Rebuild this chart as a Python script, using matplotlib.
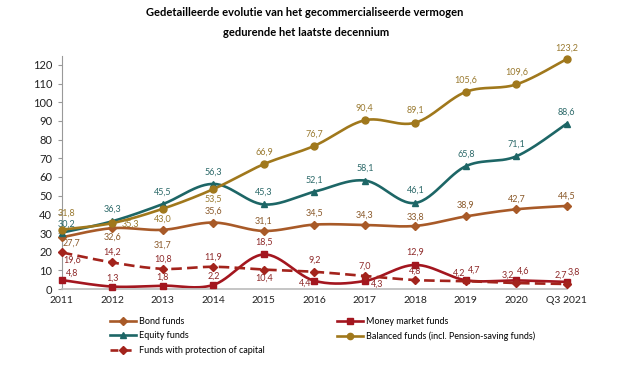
import numpy as np
import matplotlib
matplotlib.use("Agg")
import matplotlib.pyplot as plt
from matplotlib.lines import Line2D

categories = ["2011", "2012", "2013", "2014", "2015", "2016", "2017", "2018", "2019", "2020", "Q3 2021"]
bond = [27.7, 32.6, 31.7, 35.6, 31.1, 34.5, 34.3, 33.8, 38.9, 42.7, 44.5]
money = [4.8, 1.3, 1.8, 2.2, 18.5, 4.4, 4.3, 12.9, 4.7, 4.6, 3.8]
equity = [30.2, 36.3, 45.5, 56.3, 45.3, 52.1, 58.1, 46.1, 65.8, 71.1, 88.6]
balanced = [31.8, 35.3, 43.0, 53.5, 66.9, 76.7, 90.4, 89.1, 105.6, 109.6, 123.2]
protection = [19.6, 14.2, 10.8, 11.9, 10.4, 9.2, 7.0, 4.8, 4.2, 3.2, 2.7]
yticks = list(range(0, 121, 10))

plt.rcParams['font.family'] = ['Lato', 'DejaVu Sans']

fig = plt.figure(figsize=(6.25, 3.71), dpi=100)
ax = fig.add_axes([0.099, 0.221, 0.808, 0.629])

def smooth(y):
    x = np.arange(len(y), dtype=float)
    y = np.asarray(y, dtype=float)
    P = np.column_stack([x, y])
    n = len(P)
    out = []
    t = np.linspace(0, 1, 30)[:, None]
    for i in range(n - 1):
        p0 = P[i - 1] if i > 0 else P[i]
        p1 = P[i]
        p2 = P[i + 1]
        p3 = P[i + 2] if i + 2 < n else P[i + 1]
        c1 = p1 + (p2 - p0) / 6.0
        c2 = p2 - (p3 - p1) / 6.0
        seg = ((1 - t) ** 3) * p1 + 3 * ((1 - t) ** 2) * t * c1 + 3 * (1 - t) * t ** 2 * c2 + t ** 3 * p2
        out.append(seg if i == 0 else seg[1:])
    s = np.vstack(out)
    return s[:, 0], s[:, 1]

series = [
    ("Bond funds", bond, "#A85A28", "D", "-", 4.0, "#8B5A2B"),
    ("Money market funds", money, "#A3161F", "s", "-", 5.0, "#8E2A2A"),
    ("Equity funds", equity, "#1D6666", "^", "-", 5.0, "#2D6A6A"),
    ("Balanced funds (incl. Pension-saving funds)", balanced, "#A0781C", "o", "-", 5.0, "#9A7A30"),
    ("Funds with protection of capital", protection, "#A3231C", "D", "--", 4.0, "#8E2A2A"),
]

# label offsets in pixels (dx, dy) per series
offs = {
    "Bond funds": [(10, -6), (0, -9), (0, -15), (0, 11), (0, 10), (0, 11), (0, 10), (0, 9), (0, 11), (0, 10), (0, 10)],
    "Money market funds": [(10, 7), (0, 8), (0, 8), (0, 9), (0, 12), (-9, -2), (12, -3), (0, 13), (8, 10), (7, 9), (7, 10)],
    "Equity funds": [(5, 8), (0, 12), (0, 12), (0, 12), (0, 12), (0, 12), (0, 12), (0, 13), (0, 12), (0, 12), (0, 11)],
    "Balanced funds (incl. Pension-saving funds)": [(5, 16), (18, -1), (0, -10), (0, -10), (0, 12), (0, 12), (0, 12), (0, 12), (0, 12), (0, 12), (0, 11)],
    "Funds with protection of capital": [(10, -8), (0, 10), (0, 10), (0, 10), (0, -9), (0, 12), (0, 10), (0, 9), (-7, 8), (-8, 8), (-6, 9)],
}

x = np.arange(len(categories))
handles = {}
for name, vals, col, mk, ls, ms, lcol in series:
    sx, sy = smooth(vals)
    ax.plot(sx, sy, color=col, lw=1.9, ls=ls, dashes=(4, 2) if ls == "--" else (None, None), zorder=2, clip_on=False)
    ax.plot(x, vals, ls="none", marker=mk, ms=ms, color=col, zorder=3, clip_on=False)
    for i, v in enumerate(vals):
        dx, dy = offs[name][i]
        ax.annotate(f"{v:.1f}".replace(".", ","), (i, v), xytext=(dx, dy), textcoords="offset pixels",
                    ha="center", va="center", fontsize=6.5, color=lcol)
    handles[name] = Line2D([0], [0], color=col, lw=1.9, ls=ls, marker=mk, ms=ms * 0.9,
                           dashes=(3, 2) if ls == "--" else (None, None))

ax.set_xlim(0, 10)
ax.set_ylim(0, 125)
ax.set_yticks(yticks)
ax.set_xticks(x)
ax.set_xticklabels(categories)
ax.tick_params(axis="y", labelsize=8, length=3, color="#999999", labelcolor="#222222", pad=4)
ax.tick_params(axis="x", labelsize=7.5, length=0, pad=5, labelcolor="#222222")
for s in ["top", "right"]:
    ax.spines[s].set_visible(False)
ax.spines["left"].set_color("#999999")
ax.spines["bottom"].set_color("#bbbbbb")
ax.spines["bottom"].set_linewidth(1.2)

order = ["Bond funds", "Equity funds", "Funds with protection of capital", "Money market funds",
         "Balanced funds (incl. Pension-saving funds)"]
fig.legend([handles[o] for o in order], order, ncol=2, loc="upper left", bbox_to_anchor=(0.176, 0.146),
           frameon=False, fontsize=6.5, handlelength=2.9, columnspacing=8.0, labelspacing=0.62,
           handletextpad=0.3, borderaxespad=0, borderpad=0)

fig.text(0.488, 1 - 13 / 371, "Gedetailleerde evolutie van het gecommercialiseerde vermogen",
         ha="center", va="center", fontsize=8.0, fontweight="bold")
fig.text(0.49, 1 - 32 / 371, "gedurende het laatste decennium",
         ha="center", va="center", fontsize=8.0, fontweight="bold")

fig.savefig("out.png", dpi=100)
